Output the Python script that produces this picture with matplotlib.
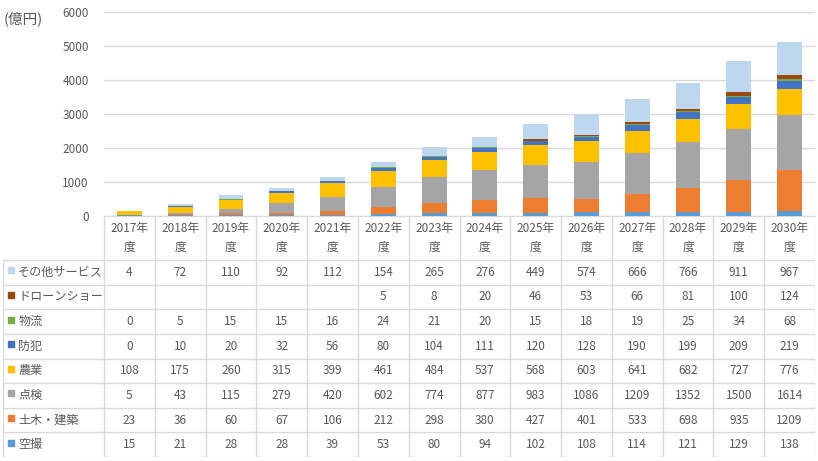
import numpy as np
import matplotlib
matplotlib.use("Agg")
import matplotlib.pyplot as plt

plt.rcParams['font.family'] = ['Noto Sans CJK JP', 'DejaVu Sans']

years = ["2017年\n度", "2018年\n度", "2019年\n度", "2020年\n度", "2021年\n度",
         "2022年\n度", "2023年\n度", "2024年\n度", "2025年\n度", "2026年\n度",
         "2027年\n度", "2028年\n度", "2029年\n度", "2030年\n度"]

# stacked bottom -> top
kuusatsu = [15, 21, 28, 28, 39, 53, 80, 94, 102, 108, 114, 121, 129, 138]
doboku = [23, 36, 60, 67, 106, 212, 298, 380, 427, 401, 533, 698, 935, 1209]
tenken = [5, 43, 115, 279, 420, 602, 774, 877, 983, 1086, 1209, 1352, 1500, 1614]
nougyou = [108, 175, 260, 315, 399, 461, 484, 537, 568, 603, 641, 682, 727, 776]
bouhan = [0, 10, 20, 32, 56, 80, 104, 111, 120, 128, 190, 199, 209, 219]
butsuryu = [0, 5, 15, 15, 16, 24, 21, 20, 15, 18, 19, 25, 34, 68]
show = [None, None, None, None, None, 5, 8, 20, 46, 53, 66, 81, 100, 124]
sonota = [4, 72, 110, 92, 112, 154, 265, 276, 449, 574, 666, 766, 911, 967]

series = [
    ("空撮", kuusatsu, "#5B9BD5"),
    ("土木・建築", doboku, "#ED7D31"),
    ("点検", tenken, "#A5A5A5"),
    ("農業", nougyou, "#FFC000"),
    ("防犯", bouhan, "#4472C4"),
    ("物流", butsuryu, "#70AD47"),
    ("ドローンショー", show, "#9E480E"),
    ("その他サービス", sonota, "#BDD7EE"),
]

TXT = "#595959"
GRID = "#D9D9D9"
W, H = 818, 461
fig = plt.figure(figsize=(W / 100, H / 100), dpi=100)

x0, x1 = 104, 815
y_top, y_axis, y_bot = 12, 216, 457
ax = fig.add_axes([x0 / W, 1 - y_axis / H, (x1 - x0) / W, (y_axis - y_top) / H])

n = len(years)
xs = np.arange(n) + 0.5
bottom = np.zeros(n)
for name, vals, col in series:
    v = np.array([0 if a is None else a for a in vals], dtype=float)
    ax.bar(xs, v, width=0.49, bottom=bottom, color=col, zorder=3)
    bottom += v

ax.set_xlim(0, n)
ax.set_ylim(0, 6000)
ax.set_yticks(range(0, 6001, 1000))
ax.yaxis.grid(True, color=GRID, linewidth=1, zorder=0)
ax.set_xticks([])
for s in ["top", "right", "left"]:
    ax.spines[s].set_visible(False)
ax.spines["bottom"].set_color(GRID)
ax.tick_params(axis="y", length=0, pad=11, labelsize=8.5, labelcolor=TXT)
fig.text(4 / W, 1 - 19 / H, "(億円)", fontsize=10.5, color=TXT, va="center", ha="left")

# data table under the chart
row_h = (y_bot - 260) / 8
col_w = (x1 - x0) / n
lab_w = (x0 - 3) / col_w
hdr = (260 - y_axis) / row_h
tx = fig.add_axes([3 / W, 1 - y_bot / H, (x1 - 3) / W, (y_bot - y_axis) / H])
tx.set_xlim(-lab_w, n)
tx.set_ylim(hdr + 8, 0)
tx.axis("off")

for i in range(n + 1):
    tx.plot([i, i], [0, hdr + 8], color=GRID, lw=1)
tx.plot([-lab_w, -lab_w], [hdr, hdr + 8], color=GRID, lw=1)
for r in range(9):
    tx.plot([-lab_w, n], [hdr + r, hdr + r], color=GRID, lw=1)

for i, lab in enumerate(years):
    top, bot = lab.split("\n")
    tx.text(i + 0.5, hdr * 0.28, top, ha="center", va="center", fontsize=8.5, color=TXT)
    tx.text(i + 0.5, hdr * 0.72, bot, ha="center", va="center", fontsize=8.5, color=TXT)

for r, (name, vals, col) in enumerate(reversed(series)):
    yc = hdr + r + 0.5
    tx.scatter([-lab_w + 0.16], [yc - 0.08], marker="s", s=22, color=col)
    tx.text(-lab_w + 0.3, yc, name, ha="left", va="center", fontsize=8.7, color=TXT)
    for i, v in enumerate(vals):
        if v is not None:
            tx.text(i + 0.5, yc, str(v), ha="center", va="center", fontsize=8.5, color=TXT)

fig.savefig("out.png", dpi=100)
